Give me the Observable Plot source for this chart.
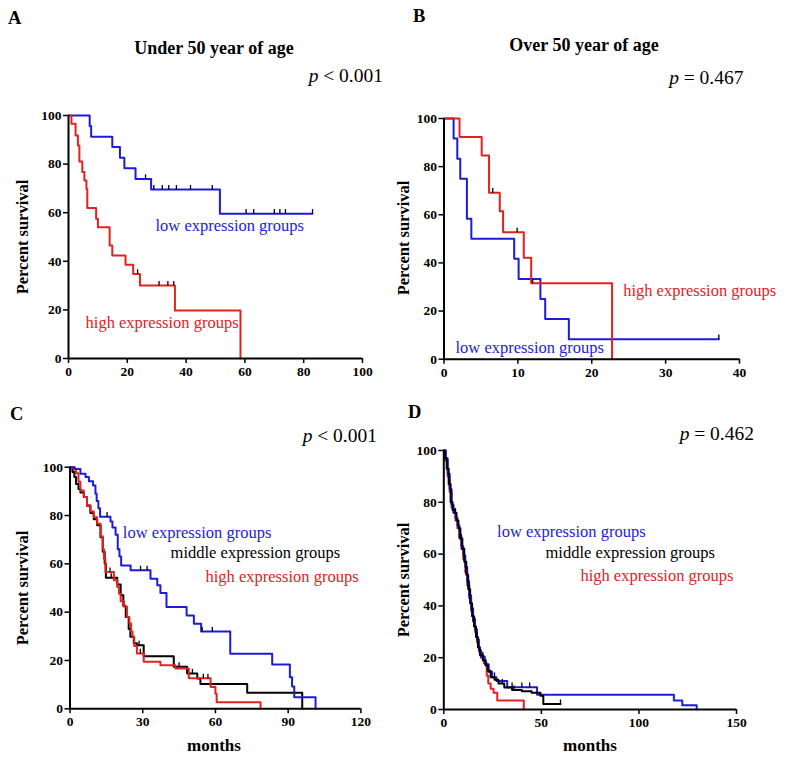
<!DOCTYPE html>
<html><head><meta charset="utf-8">
<script src="https://cdn.jsdelivr.net/npm/d3@7"></script>
<script src="https://cdn.jsdelivr.net/npm/@observablehq/plot@0.6"></script>
<style>
body{margin:0;background:#fff;}
#fig{position:relative;width:785px;height:762px;background:#fff;font-family:"Liberation Serif","Times New Roman",serif;}
#fig svg{position:absolute;}
#fig svg text{font-family:"Liberation Serif","Times New Roman",serif;}
</style></head><body><div id="fig"></div>
<script>
// ---------- data ----------
const groupNames = ["low expression groups", "middle expression groups", "high expression groups"];
const pValues = ["< 0.001", "= 0.467", "< 0.001", "= 0.462"];
const panelLetters = ["A", "B", "C", "D"];
const panelTitles = ["Under 50 year of age", "Over 50 year of age"];
const yTicks = [0, 20, 40, 60, 80, 100];
const xTicksA = [0, 20, 40, 60, 80, 100];
const xTicksB = [0, 10, 20, 30, 40];
const xTicksC = [0, 30, 60, 90, 120];
const xTicksD = [0, 50, 100, 150];

// Panel A
const A_low_t = [0, 7.2, 7.7, 14.9, 17.5, 19.0, 22.8, 28.1, 51.5, 83.0];
const A_low_s = [100, 95.7, 91.3, 87.0, 82.6, 78.3, 73.9, 69.5, 59.6, 59.6];
const A_low_c = [26.2, 29.0, 31.9, 34.1, 36.7, 41.5, 48.9, 60.4, 63.0, 70.0, 71.9, 73.8, 83.0];
const A_high_t = [0, 1.0, 2.4, 3.2, 3.7, 4.7, 5.4, 6.1, 6.4, 9.4, 10.0, 14.0, 14.9, 19.4, 22.0, 24.3, 36.2, 58.5];
const A_high_s = [100, 96.6, 91.8, 87.7, 81.1, 76.7, 73.3, 69.8, 61.9, 57.5, 54.0, 46.5, 42.4, 38.6, 34.8, 30.0, 19.8, 0];
const A_high_c = [23.5, 30.8, 33.8, 35.8];

// Panel B
const B_low_t = [0, 1.3, 1.8, 2.2, 3.1, 3.7, 9.5, 10.1, 13.05, 13.7, 16.9, 37.2];
const B_low_s = [100, 91.7, 83.3, 75.0, 58.3, 50.0, 41.7, 33.3, 25.0, 16.7, 8.3, 8.3];
const B_low_c = [37.2];
const B_high_t = [0, 2.1, 5.1, 6.1, 7.55, 8.0, 10.8, 11.8, 22.75];
const B_high_s = [100, 92.3, 84.6, 69.2, 61.5, 52.7, 42.2, 31.6, 0];
const B_high_c = [6.6, 9.9, 12.0];

// Panel C
const C_low_t = [0, 2.0, 4.3, 6.4, 7.8, 9.5, 10.5, 11.0, 11.7, 12.4, 16.7, 17.5, 18.8, 19.7, 20.4, 21.1, 25.0, 33.2, 36.0, 37.3, 39.8, 48.1, 51.1, 54.1, 66.1, 83.4, 90.7, 91.6, 92.5, 101.3];
const C_low_s = [100, 99.3, 97.3, 95.9, 94.2, 92.4, 89.0, 86.0, 83.0, 79.5, 77.5, 75.0, 72.0, 66.0, 63.0, 59.3, 57.3, 53.8, 51.1, 47.9, 42.1, 38.6, 35.2, 32.0, 22.8, 18.3, 13.1, 9.2, 4.8, 0];
const C_low_c = [15.3, 29.1, 31.8, 54.5, 58.7];
const C_mid_t = [0, 1.0, 1.8, 2.5, 3.5, 4.3, 5.7, 7.0, 8.4, 9.8, 11.2, 12.6, 13.5, 14.3, 14.8, 19.5, 20.9, 22.0, 23.0, 24.2, 24.9, 26.3, 27.6, 30.4, 42.8, 48.3, 52.5, 53.8, 73.1, 95.8];
const C_mid_s = [100, 98.0, 95.9, 93.0, 91.0, 89.5, 87.7, 84.0, 81.0, 78.5, 76.0, 71.0, 65.0, 60.0, 54.2, 51.5, 47.0, 42.5, 38.0, 33.0, 29.8, 27.1, 26.3, 21.8, 17.4, 14.6, 12.5, 10.3, 6.6, 0];
const C_mid_c = [17.0, 28.5, 45.0, 50.5];
const C_high_t = [0, 1.5, 2.5, 3.5, 4.3, 5.7, 7.0, 8.4, 9.8, 11.2, 12.6, 13.5, 14.0, 14.6, 18.1, 19.5, 20.2, 20.9, 22.3, 23.5, 24.5, 25.2, 25.8, 26.5, 27.6, 30.4, 37.3, 43.5, 49.0, 58.0, 60.0, 60.5, 78.6];
const C_high_s = [100, 99.0, 97.5, 94.0, 90.4, 87.7, 84.2, 81.7, 79.3, 76.6, 71.4, 66.0, 62.0, 56.6, 53.2, 50.4, 47.7, 44.5, 42.2, 38.0, 35.3, 32.0, 29.8, 26.0, 22.9, 19.5, 18.0, 16.7, 12.6, 9.0, 6.2, 2.7, 0];
const C_high_c = [16.5, 29.0, 55.0, 56.9];

// Panel D
const D_low_t = [0, 1, 2, 3, 4, 5, 6, 7, 8, 9, 10, 11, 12, 13, 14, 15, 16, 17, 18, 19, 21, 23, 24.8, 27, 32.5, 47.8, 117.9, 122.2, 129.6];
const D_low_s = [100, 97, 91, 85, 79, 76, 74, 71, 67, 63, 59.5, 55, 49.5, 44, 39, 35, 31, 27, 23, 20.5, 17.5, 14.5, 12.5, 11, 8.6, 5.7, 3.5, 1.6, 0];
const D_low_c = [20, 26, 35, 40, 44];
const D_mid_t = [0, 0.5, 1.5, 2.5, 3.5, 4.5, 5.5, 6.5, 7.5, 8.5, 9.5, 10.5, 11.5, 12.5, 13.5, 14.5, 15.5, 16.5, 17.5, 18.5, 20, 21.5, 22.5, 24, 26, 28, 31, 35, 40, 45, 49.5, 51, 59.8];
const D_mid_s = [100, 97, 93, 87, 80, 77, 76, 73, 70, 66, 62, 57, 52, 46.5, 41, 36, 32, 28, 24, 21, 19, 17, 15, 12.5, 11.5, 10, 8.5, 7.5, 7, 6.5, 5.3, 2.1, 2.1];
const D_mid_c = [3, 6, 9, 13, 17, 30, 36, 59.8];
const D_high_t = [0, 1, 2, 3, 4, 5, 6, 7, 8, 9, 10, 11, 12, 13, 14, 15, 16, 17, 18, 19, 20.5, 22, 22.8, 24, 25.5, 27.4, 41];
const D_high_s = [100, 96, 90, 84, 78, 76, 73, 70, 66, 62, 58, 53, 48, 43, 38, 34, 30, 26, 22.5, 20, 18, 13, 10, 8, 6.5, 3.5, 0];
const D_high_c = [8, 15];

// ---------- helpers ----------
const BLUE = "#1c1cd8", RED = "#e3211f", BLACK = "#000";
const FONT = "'Liberation Serif', 'Times New Roman', serif";
const zip = (t, s) => t.map((v, i) => ({t: v, s: s[i]}));
const levelAt = (t, s, x) => { let v = s[0]; for (let i = 0; i < t.length; i++) if (t[i] <= x) v = s[i]; return v; };
const tickSym = {draw(ctx, size) { const h = Math.sqrt(size); ctx.moveTo(0, 0); ctx.lineTo(0, -h); }};

function curve(t, s, c, color) {
  return [
    Plot.line(zip(t, s), {x: "t", y: "s", curve: "step-after", stroke: color, strokeWidth: 2}),
    Plot.dot(c, {x: d => d, y: d => levelAt(t, s, d), symbol: tickSym, r: 2.6, stroke: BLACK, strokeWidth: 1.3, fill: "none"})
  ];
}
function label(text, x, y, color) {
  return Plot.text([text], {x, y, text: d => d, textAnchor: "start", fill: color, fontSize: 16.5, fontWeight: "normal", fontFamily: FONT});
}

function panel(cfg) {
  const p = Plot.plot({
    width: cfg.w, height: cfg.h,
    marginLeft: cfg.ml, marginRight: cfg.mr, marginTop: cfg.mt, marginBottom: cfg.mb,
    style: {fontFamily: FONT, fontSize: "13.5px", fontWeight: "bold", color: "black", background: "transparent", overflow: "visible"},
    x: {domain: cfg.xDomain},
    y: {domain: [0, 100]},
    marks: [
      Plot.axisX({ticks: cfg.xTicks, tickSize: 5, tickPadding: 3, label: null, strokeWidth: 1.5, fontFamily: FONT, fontSize: 13.5, fontWeight: "bold"}),
      Plot.axisY({ticks: yTicks, tickSize: 5, tickPadding: 2, label: null, strokeWidth: 1.5, fontFamily: FONT, fontSize: 13.5, fontWeight: "bold"}),
      ...cfg.marks,
      Plot.ruleX([cfg.xDomain[0]], {strokeWidth: 2}),
      Plot.ruleY([0], {strokeWidth: 2})
    ]
  });
  p.style.left = cfg.left + "px";
  p.style.top = cfg.top + "px";
  document.getElementById("fig").appendChild(p);
}

panel({left: 0, top: 0, w: 392, h: 381, ml: 68, mr: 30, mt: 115, mb: 23, xDomain: [0, 100], xTicks: xTicksA,
  marks: [...curve(A_low_t, A_low_s, A_low_c, BLUE), ...curve(A_high_t, A_high_s, A_high_c, RED),
    label(groupNames[0], 29.6, 54.7, BLUE), label(groupNames[2], 5.8, 14.7, RED)]});
panel({left: 392, top: 0, w: 393, h: 381, ml: 51.5, mr: 46, mt: 118, mb: 22.3, xDomain: [0, 40], xTicks: xTicksB,
  marks: [...curve(B_low_t, B_low_s, B_low_c, BLUE), ...curve(B_high_t, B_high_s, B_high_c, RED),
    label(groupNames[2], 24.25, 28.6, RED), label(groupNames[0], 1.56, 4.8, BLUE)]});
panel({left: 0, top: 381, w: 392, h: 381, ml: 69.5, mr: 31.6, mt: 85.7, mb: 53.7, xDomain: [0, 120], xTicks: xTicksC,
  marks: [...curve(C_mid_t, C_mid_s, C_mid_c, BLACK), ...curve(C_high_t, C_high_s, C_high_c, RED), ...curve(C_low_t, C_low_s, C_low_c, BLUE),
    label(groupNames[0], 21.8, 72.7, BLUE), label(groupNames[1], 41.5, 64.4, BLACK), label(groupNames[2], 55.9, 54.8, RED)]});
panel({left: 392, top: 381, w: 393, h: 381, ml: 51.3, mr: 49, mt: 69, mb: 53, xDomain: [0, 150], xTicks: xTicksD,
  marks: [...curve(D_high_t, D_high_s, D_high_c, RED), ...curve(D_low_t, D_low_s, D_low_c, BLUE), ...curve(D_mid_t, D_mid_s, D_mid_c, BLACK),
    label(groupNames[0], 27.3, 68.5, BLUE), label(groupNames[1], 52.1, 60.7, BLACK), label(groupNames[2], 70, 51.7, RED)]});

// ---------- overlay text: letters, titles, p values, axis titles ----------
const ov = d3.select("#fig").append("svg").attr("width", 785).attr("height", 762)
  .style("left", "0px").style("top", "0px").style("pointer-events", "none")
  .attr("font-family", FONT);
const letterPos = [[8, 23.5], [413, 22], [10, 420], [408, 418]];
panelLetters.forEach((L, i) => ov.append("text").attr("x", letterPos[i][0]).attr("y", letterPos[i][1])
  .attr("font-size", 18.5).attr("font-weight", "bold").text(L));
const titlePos = [[214, 54], [584, 50.5]];
panelTitles.forEach((T, i) => ov.append("text").attr("x", titlePos[i][0]).attr("y", titlePos[i][1])
  .attr("text-anchor", "middle").attr("font-size", 18).attr("font-weight", "bold").text(T));
const pPos = [[383, 82], [743.5, 83.5], [377, 442], [754, 440]];
pValues.forEach((v, i) => {
  const t = ov.append("text").attr("x", pPos[i][0]).attr("y", pPos[i][1]).attr("text-anchor", "end").attr("font-size", 19.5);
  t.append("tspan").attr("font-style", "italic").text("p");
  t.append("tspan").text(" " + v);
});
const ylabPos = [[22, 237], [403, 238], [22, 588], [403, 580]];
ylabPos.forEach(([x, y]) => ov.append("text").attr("transform", `translate(${x},${y}) rotate(-90)`)
  .attr("text-anchor", "middle").attr("dominant-baseline", "central")
  .attr("font-size", 16.5).attr("font-weight", "bold").text("Percent survival"));
const xlabPos = [[214, 745], [590, 745]];
xlabPos.forEach(([x, y]) => ov.append("text").attr("x", x).attr("y", y)
  .attr("text-anchor", "middle").attr("dominant-baseline", "central")
  .attr("font-size", 17).attr("font-weight", "bold").text("months"));
</script></body></html>
